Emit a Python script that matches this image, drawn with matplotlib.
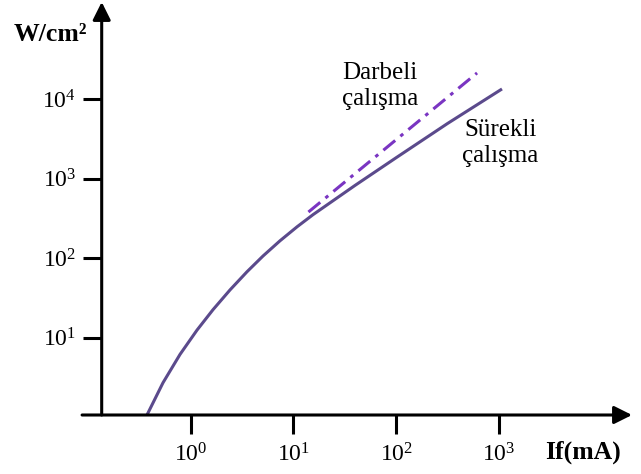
import matplotlib
matplotlib.use("Agg")
import matplotlib.pyplot as plt

# ---- data ----
solid_if = [0.375, 0.537, 0.787, 1.151, 1.648, 2.415, 3.532, 5.058, 7.396, 10.84,
            15.52, 39.8, 100, 316, 1074]
solid_w = [1.067, 2.716, 6.18, 12.47, 22.54, 39.99, 67.6, 106.7, 165.6, 248.3,
           353.2, 824, 1837, 4943, 13460]

pulse_if = [14.0, 614]
pulse_w = [381, 21400]

x_ticks = [1, 10, 100, 1000]
x_ticklabels = ["$10^{0}$", "$10^{1}$", "$10^{2}$", "$10^{3}$"]
y_ticks = [10, 100, 1000, 10000]
y_ticklabels = ["$10^{1}$", "$10^{2}$", "$10^{3}$", "$10^{4}$"]

SOLID_COLOR = "#5B4A8C"
PULSE_COLOR = "#7A35C2"

plt.rcParams["font.family"] = ["Liberation Serif", "DejaVu Serif"]
plt.rcParams["mathtext.fontset"] = "custom"
plt.rcParams["mathtext.rm"] = "Liberation Serif"
plt.rcParams["mathtext.it"] = "Liberation Serif"

W, H = 641, 474
fig = plt.figure(figsize=(W / 100, H / 100), dpi=100)
# axes box: y-axis at x=101.7px, x-axis at y=415px, arrow tips at 632 / 2
ax = fig.add_axes([101.7 / W, (H - 415) / H, (632 - 101.7) / W, (415 - 2) / H])

ax.set_xscale("log")
ax.set_yscale("log")
ax.set_xlim(10 ** -0.867, 10 ** 4.297)
ax.set_ylim(10 ** 0.028, 10 ** 5.223)
ax.minorticks_off()

ax.plot(solid_if, solid_w, color=SOLID_COLOR, lw=2.2, solid_capstyle="butt",
        solid_joinstyle="round", zorder=3)
ax.plot(pulse_if, pulse_w, color=PULSE_COLOR, lw=2.2, dashes=(5, 2.2, 1.2, 2.2), zorder=3)

for s in ax.spines.values():
    s.set_visible(False)

# axes with arrows
arrow = dict(arrowstyle="-|>,head_length=0.6,head_width=0.3", lw=2.2,
             color="black", mutation_scale=18, shrinkA=0, shrinkB=0)
ax.annotate("", xy=(1.0, 0), xytext=(-0.037, 0), xycoords="axes fraction",
            arrowprops=arrow, annotation_clip=False)
ax.annotate("", xy=(0, 1.0), xytext=(0, 0), xycoords="axes fraction",
            arrowprops=arrow, annotation_clip=False)

ax.set_xticks(x_ticks)
ax.set_xticklabels(x_ticklabels)
ax.set_yticks(y_ticks)
ax.set_yticklabels(y_ticklabels)
ax.tick_params(direction="out", length=13.5, width=2.2, labelsize=17, pad=5)
ax.tick_params(axis="x", pad=7)

ax.text(-0.0975, 0.9225, "W/cm²", transform=ax.transAxes, fontsize=18.5,
        fontweight="bold", ha="center", va="center")
ax.text(0.9076, -0.0896, "If(mA)", transform=ax.transAxes, fontsize=18.5,
        fontweight="bold", ha="center", va="center", clip_on=False)

ax.text(69.7, 14650, "Darbeli\nçalışma", fontsize=18, ha="center", va="center",
        linespacing=1.25)
ax.text(1030, 2810, "Sürekli\nçalışma", fontsize=18, ha="center", va="center",
        linespacing=1.25)

fig.savefig("out.png", dpi=100)
